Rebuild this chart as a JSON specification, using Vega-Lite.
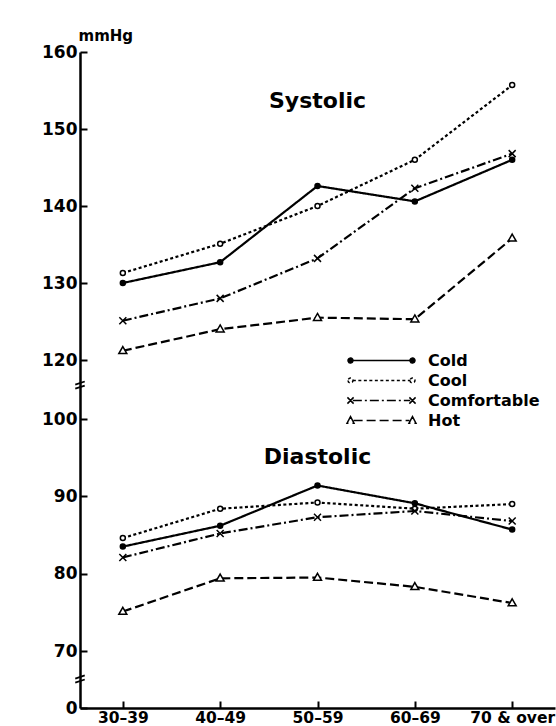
{
  "$schema": "https://vega.github.io/schema/vega-lite/v6.json",
  "autosize": {"type": "none"},
  "padding": {"left": 80, "top": 52, "right": 1, "bottom": 18},
  "width": 475,
  "height": 656,
  "background": "white",
  "config": {
    "view": {"stroke": null},
    "font": "DejaVu Sans",
    "axis": {
      "domainColor": "black", "domainWidth": 2.5, "tickColor": "black", "tickWidth": 2,
      "labelFont": "DejaVu Sans", "labelFontWeight": "bold", "labelFontSize": 17, "labelColor": "black",
      "grid": false
    }
  },
  "resolve": {"scale": {"shape": "independent", "fill": "independent", "strokeDash": "independent"}, "legend": {"shape": "independent", "fill": "independent", "strokeDash": "independent"}},
  "data": {"values": [
    {"age": "30–39", "type": "Systolic", "condition": "Cold", "value": 130.0},
    {"age": "40–49", "type": "Systolic", "condition": "Cold", "value": 132.7},
    {"age": "50–59", "type": "Systolic", "condition": "Cold", "value": 142.6},
    {"age": "60–69", "type": "Systolic", "condition": "Cold", "value": 140.6},
    {"age": "70 & over", "type": "Systolic", "condition": "Cold", "value": 146.0},
    {"age": "30–39", "type": "Systolic", "condition": "Cool", "value": 131.3},
    {"age": "40–49", "type": "Systolic", "condition": "Cool", "value": 135.1},
    {"age": "50–59", "type": "Systolic", "condition": "Cool", "value": 140.0},
    {"age": "60–69", "type": "Systolic", "condition": "Cool", "value": 146.0},
    {"age": "70 & over", "type": "Systolic", "condition": "Cool", "value": 155.7},
    {"age": "30–39", "type": "Systolic", "condition": "Comfortable", "value": 125.1},
    {"age": "40–49", "type": "Systolic", "condition": "Comfortable", "value": 128.0},
    {"age": "50–59", "type": "Systolic", "condition": "Comfortable", "value": 133.2},
    {"age": "60–69", "type": "Systolic", "condition": "Comfortable", "value": 142.3},
    {"age": "70 & over", "type": "Systolic", "condition": "Comfortable", "value": 146.8},
    {"age": "30–39", "type": "Systolic", "condition": "Hot", "value": 121.2},
    {"age": "40–49", "type": "Systolic", "condition": "Hot", "value": 124.0},
    {"age": "50–59", "type": "Systolic", "condition": "Hot", "value": 125.5},
    {"age": "60–69", "type": "Systolic", "condition": "Hot", "value": 125.3},
    {"age": "70 & over", "type": "Systolic", "condition": "Hot", "value": 135.8},
    {"age": "30–39", "type": "Diastolic", "condition": "Cold", "value": 83.5},
    {"age": "40–49", "type": "Diastolic", "condition": "Cold", "value": 86.2},
    {"age": "50–59", "type": "Diastolic", "condition": "Cold", "value": 91.4},
    {"age": "60–69", "type": "Diastolic", "condition": "Cold", "value": 89.1},
    {"age": "70 & over", "type": "Diastolic", "condition": "Cold", "value": 85.7},
    {"age": "30–39", "type": "Diastolic", "condition": "Cool", "value": 84.6},
    {"age": "40–49", "type": "Diastolic", "condition": "Cool", "value": 88.4},
    {"age": "50–59", "type": "Diastolic", "condition": "Cool", "value": 89.2},
    {"age": "60–69", "type": "Diastolic", "condition": "Cool", "value": 88.4},
    {"age": "70 & over", "type": "Diastolic", "condition": "Cool", "value": 89.0},
    {"age": "30–39", "type": "Diastolic", "condition": "Comfortable", "value": 82.1},
    {"age": "40–49", "type": "Diastolic", "condition": "Comfortable", "value": 85.2},
    {"age": "50–59", "type": "Diastolic", "condition": "Comfortable", "value": 87.3},
    {"age": "60–69", "type": "Diastolic", "condition": "Comfortable", "value": 88.1},
    {"age": "70 & over", "type": "Diastolic", "condition": "Comfortable", "value": 86.8},
    {"age": "30–39", "type": "Diastolic", "condition": "Hot", "value": 75.1},
    {"age": "40–49", "type": "Diastolic", "condition": "Hot", "value": 79.4},
    {"age": "50–59", "type": "Diastolic", "condition": "Hot", "value": 79.5},
    {"age": "60–69", "type": "Diastolic", "condition": "Hot", "value": 78.3},
    {"age": "70 & over", "type": "Diastolic", "condition": "Hot", "value": 76.2}
  ]},
  "encoding": {
    "x": {
      "field": "age", "type": "ordinal",
      "sort": ["30–39", "40–49", "50–59", "60–69", "70 & over"],
      "scale": {"type": "point", "padding": 0.44},
      "axis": {"title": null, "labelAngle": 0, "tickSize": -7, "labelPadding": 9, "labelBaseline": "top", "labelFontSize": 15.5}
    },
    "y": {
      "field": "value", "type": "quantitative",
      "scale": {"domain": [0, 70, 100, 120, 160], "range": [656, 599, 367, 308, 0], "zero": false, "nice": false},
      "axis": {
        "values": [0, 70, 80, 90, 100, 120, 130, 140, 150, 160],
        "tickSize": -7, "labelPadding": 10,
        "title": "mmHg", "titleAngle": 0, "titleAlign": "left", "titleBaseline": "alphabetic",
        "titleX": -2, "titleY": -12, "titleFont": "DejaVu Sans", "titleFontSize": 15, "titleFontWeight": "bold"
      }
    }
  },
  "layer": [
    {
      "mark": {"type": "line", "color": "black", "strokeWidth": 2.2},
      "encoding": {
        "detail": {"field": "type"},
        "strokeDash": {
          "field": "condition", "type": "nominal",
          "scale": {"domain": ["Cold", "Cool", "Comfortable", "Hot"], "range": [[1, 0], [3, 2.5], [9, 3, 2, 3], [9, 4]]},
          "legend": {
            "title": null, "orient": "none", "legendX": 293, "legendY": 300,
            "labelFont": "DejaVu Sans", "labelFontWeight": "bold", "labelFontSize": 16, "labelColor": "black",
            "labelOffset": 38, "symbolSize": 240, "rowPadding": 3,
            "symbolType": {"expr": "datum.value === 'Cold' || datum.value === 'Cool' ? 'M-3.7,0H3.7M-4.32,0a0.32,0.32 0 1,0 0.64,0a0.32,0.32 0 1,0 -0.64,0M3.68,0a0.32,0.32 0 1,0 0.64,0a0.32,0.32 0 1,0 -0.64,0' : datum.value === 'Comfortable' ? 'M-3.7,0H3.7M-4.4,-0.4L-3.6,0.4M-3.6,-0.4L-4.4,0.4M3.6,-0.4L4.4,0.4M4.4,-0.4L3.6,0.4' : 'M-3.6,0H3.6M-4,-0.5L-3.55,0.35L-4.45,0.35ZM4,-0.5L4.45,0.35L3.55,0.35Z'"},
            "symbolFillColor": {"expr": "datum.value === 'Cold' ? 'black' : 'white'"},
            "encode": {"symbols": {"update": {
              "stroke": {"value": "black"},
              "strokeWidth": {"value": 1.8},
              "strokeOpacity": {"value": 1},
              "opacity": {"value": 1}
            }}}
          }
        }
      }
    },
    {
      "mark": {"type": "point", "filled": true, "stroke": "black", "strokeWidth": 1.5, "size": 25, "opacity": 1},
      "encoding": {
        "shape": {
          "field": "condition", "type": "nominal",
          "scale": {"domain": ["Cold", "Cool", "Comfortable", "Hot"], "range": ["circle", "circle", "M-1.4,-1.4L1.4,1.4M1.4,-1.4L-1.4,1.4", "M0,-1.7L1.6,1.1L-1.6,1.1Z"]},
          "legend": null
        },
        "fill": {
          "field": "condition", "type": "nominal",
          "scale": {"domain": ["Cold", "Cool", "Comfortable", "Hot"], "range": ["black", "white", "white", "white"]},
          "legend": null
        }
      }
    },
    {
      "data": {"values": [{"label": "Systolic", "age": "50–59", "value": 153.6}, {"label": "Diastolic", "age": "50–59", "value": 95.1}]},
      "mark": {"type": "text", "font": "DejaVu Sans", "fontWeight": "bold", "fontSize": 22, "baseline": "middle", "align": "center", "color": "black"},
      "encoding": {"text": {"field": "label"}}
    },
    {
      "data": {"values": [{"value": 111.5}, {"value": 35.6}]},
      "mark": {"type": "point", "shape": "M-1,-0.1L1,-0.75M-1,0.75L1,0.1", "size": 90, "stroke": "black", "strokeWidth": 1.8, "filled": false, "opacity": 1},
      "encoding": {"x": {"value": 0}}
    }
  ]
}
